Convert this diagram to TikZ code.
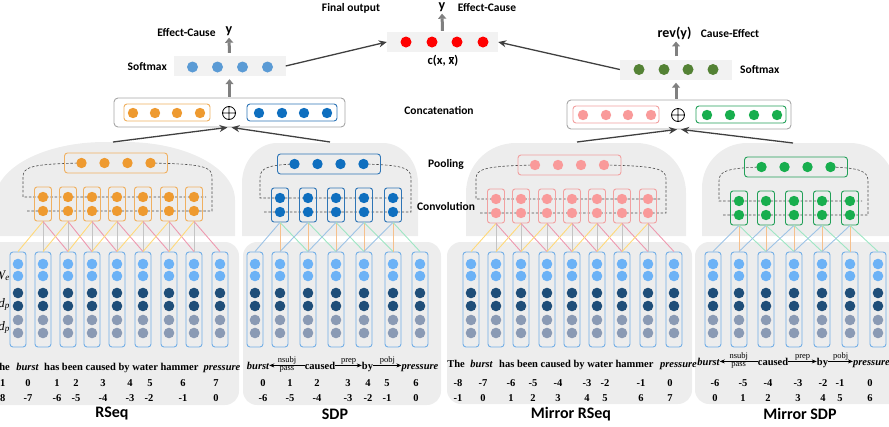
\documentclass[tikz,border=0pt]{standalone}
\usepackage{fontspec}
\setmainfont{Liberation Serif}
\newfontfamily\labf{Carlito}
\usetikzlibrary{arrows.meta}
\definecolor{bgg}{HTML}{EDEDED}
\definecolor{smg}{HTML}{F2F2F2}
\definecolor{orangedot}{HTML}{EE9A30}
\definecolor{orangeline}{HTML}{F0B060}
\definecolor{bluedot}{HTML}{0F6FBF}
\definecolor{blueline}{HTML}{2E75B6}
\definecolor{pinkdot}{HTML}{F99A9A}
\definecolor{pinkline}{HTML}{F2A0A0}
\definecolor{greendot}{HTML}{18AE4E}
\definecolor{greenline}{HTML}{22A058}
\definecolor{embline}{HTML}{72AEE6}
\definecolor{eA}{HTML}{6CB2F6}
\definecolor{eB}{HTML}{1F4E79}
\definecolor{eC}{HTML}{8A9AB4}
\definecolor{lkY}{HTML}{FFD97A}
\definecolor{lkG}{HTML}{C4C4C4}
\definecolor{lkP}{HTML}{EE9AB0}
\definecolor{lkB}{HTML}{9DC3E6}
\definecolor{lkO}{HTML}{F6C08C}
\definecolor{lkM}{HTML}{9EE6C4}
\definecolor{smblue}{HTML}{5B9BD5}
\definecolor{smgreen}{HTML}{548235}
\definecolor{arrg}{HTML}{808080}
\definecolor{darr}{HTML}{404040}
\tikzset{
 embbox/.style={draw=embline, line width=0.9pt, rounded corners=3pt, minimum width=16pt, minimum height=95pt, inner sep=0pt},
 convbox/.style={draw=#1, line width=0.9pt, rounded corners=2.5pt, minimum width=17pt, minimum height=34pt, inner sep=0pt},
 poolbox/.style={draw=#1, line width=0.9pt, rounded corners=3pt, minimum width=103pt, minimum height=20pt, inner sep=0pt},
 inbox/.style={draw=#1, line width=0.9pt, rounded corners=3pt, minimum height=17pt, inner sep=0pt},
 outbox/.style={draw=gray!70, fill=white, line width=0.9pt, rounded corners=4pt, minimum height=29pt, inner sep=0pt},
 smbox/.style={fill=smg, minimum height=20pt, inner sep=0pt},
 dashln/.style={dash pattern=on 2.5pt off 1.8pt, line width=0.6pt, black!70},
 garrow/.style={draw=arrg, line width=3pt, -{Triangle[width=8pt,length=5pt]}},
 darrow/.style={draw=darr, line width=1.3pt, -{Stealth[width=7pt,length=8pt]}},
 lab/.style={font=\labf\bfseries\fontsize{11.5}{13}\selectfont, inner sep=0pt},
 ylab/.style={font=\labf\bfseries\fontsize{14}{16}\selectfont, inner sep=0pt},
 big/.style={font=\labf\bfseries\fontsize{16}{18}\selectfont, inner sep=0pt},
 wd/.style={font=\bfseries\fontsize{10.5}{12}\selectfont, inner sep=0pt, anchor=base},
 wi/.style={font=\bfseries\itshape\fontsize{10.5}{12}\selectfont, inner sep=0pt, anchor=base},
 num/.style={font=\bfseries\fontsize{10.5}{12}\selectfont, inner sep=0pt, anchor=base},
 dep/.style={font=\fontsize{8.5}{9}\selectfont, inner sep=0pt},
 deparr/.style={line width=0.6pt, -{Stealth[width=4pt,length=5pt]}},
 side/.style={font=\itshape\fontsize{13}{14}\selectfont, inner sep=0pt, anchor=base east},
}
% embedding columns: #1 prefix, #2 x list
\newcommand\embrow[2]{%
  \foreach \x [count=\i] in {#2} {
    \node[embbox] (#1e\i) at (\x,299.5) {};
    \foreach \yy/\cc in {264/eA,276/eA,293/eB,306/eB,320/eC,333/eC}
      \fill[\cc] (\x,\yy) circle (5.3);
  }}
% conv + pool: #1 prefix #2 conv xs #3 row1 y #4 pool cx #5 colour #6 first x #7 last x
\newcommand\convpool[7]{%
  \pgfmathsetmacro\pyy{#3-34}
  \pgfmathsetmacro\rbb{#3+14}
  \draw[dashln] (#4-34.5,\pyy) .. controls (#6-12,\pyy+1) and (#6-20,\pyy+4) .. (#6-20,\pyy+14) -- (#6-20,#3) -- (#7+12,#3);
  \draw[dashln] (#6-16,\rbb) -- (#7+18,\rbb) -- (#7+18,\pyy+14) .. controls (#7+18,\pyy+4) and (#7+10,\pyy+1) .. (#4+34.5,\pyy);
  \node[poolbox=#5line] (#1pool) at (#4,\pyy) {};
  \foreach \k in {0,23,46,69} \fill[#5dot] (#4-34.5+\k,\pyy) circle (5.2);
  \foreach \x [count=\i] in {#2} {
    \node[convbox=#5line] (#1c\i) at (\x,#3+7) {};
    \fill[#5dot] (\x,#3) circle (5.2) (\x,\rbb) circle (5.2);
  }}
% links: #1 prefix #2 number of convs #3 #4 #5 colours
\newcommand\links[5]{%
  \foreach \i in {1,...,#2} {
    \pgfmathtruncatemacro\jj{\i+1}
    \pgfmathtruncatemacro\kk{\i+2}
    \draw[#3, line width=0.9pt] (#1c\i.south) -- (#1e\i.north);
    \draw[#4, line width=0.9pt] (#1c\i.south) -- (#1e\jj.north);
    \draw[#5, line width=0.9pt] (#1c\i.south) -- (#1e\kk.north);
  }}
\begin{document}
\begin{tikzpicture}[x=1pt,y=-1pt]
\useasboundingbox (0,0) rectangle (889,426);
% ---------- backgrounds
\fill[bgg] (-5,236) -- (-5,200) .. controls (-5,168) and (44,142) .. (105,142) -- (125,142) .. controls (186,142) and (235,168) .. (235,200) -- (235,236) -- cycle;
\fill[bgg] (242,236) -- (242,183) .. controls (242,161) and (258,143) .. (277,143) -- (383,143) .. controls (402,143) and (418,161) .. (418,183) -- (418,236) -- cycle;
\fill[bgg] (466,236) -- (466,193) .. controls (466,165) and (488,143) .. (516,143) -- (636,143) .. controls (664,143) and (686,165) .. (686,193) -- (686,236) -- cycle;
\fill[bgg] (702,236) -- (702,188) .. controls (702,163) and (722,143) .. (747,143) -- (850,143) .. controls (875,143) and (895,163) .. (895,188) -- (895,236) -- cycle;
\fill[bgg, rounded corners=14pt] (-20,242) rectangle (239,405);
\fill[bgg, rounded corners=14pt] (243,242) rectangle (441,405);
\fill[bgg, rounded corners=14pt] (447,242) rectangle (692,404);
\fill[bgg, rounded corners=14pt] (695,242) rectangle (905,404);
% ---------- embeddings
\embrow{rs}{18,43,68,92,117,143,169,194,220}
\embrow{sd}{255,280,308,336,364,393,420}
\embrow{mr}{471,496,521,547,572,597,622,648,674}
\embrow{ms}{713,739,766,794,822,850,878}
% ---------- convolution and pooling
\convpool{rs}{43,68,92,117,143,169,194}{197}{116}{orange}{43}{194}
\convpool{sd}{280,308,336,364,393}{198}{329}{blue}{280}{393}
\convpool{mr}{496,521,547,572,597,622,648}{199}{569.5}{pink}{496}{648}
\convpool{ms}{739,766,794,822,850}{201}{796}{green}{739}{850}
\links{rs}{7}{lkY}{lkG}{lkP}
\links{sd}{5}{lkB}{lkO}{lkM}
\links{mr}{7}{lkY}{lkG}{lkP}
\links{ms}{5}{lkB}{lkO}{lkM}
% ---------- side labels (cut by the page edge)
\node[side] (sl1) at (10,279) {W\textsubscript{e}};
\node[side] (sl2) at (10,307) {d\textsubscript{p}};
\node[side] (sl3) at (10,330) {d\textsubscript{p}};
% ---------- RSeq words and numbers
\node[wd, anchor=base east] (rsw1) at (10,370) {The};
\node[wi] (rsw2) at (27.5,370) {burst};
\node[wd, anchor=base west] (rsw3) at (44,370) {has been caused by water hammer};
\node[wi] (rsw4) at (222,370) {pressure};
\node[num, anchor=base east] (rsa0) at (5.5,386) {-1};
\node[num, anchor=base east] (rsb0) at (5.5,401) {-8};
\foreach \x/\t [count=\i] in {28/0,57/1,76/2,103/3,130/4,150/5,183/6,216/7}
  \node[num] (rsa\i) at (\x,386) {\t};
\foreach \x/\t [count=\i] in {28/-7,57/-6,76/-5,103/-4,130/-3,149/-2,183/-1,216/0}
  \node[num] (rsb\i) at (\x,401) {\t};
\node[big] (tRS) at (112,414) {RSeq};
% ---------- SDP words
\node[wi] (sdw1) at (258,369) {burst};
\node[wd] (sdw2) at (320,369) {caused};
\node[wd] (sdw3) at (367.5,369) {by};
\node[wi] (sdw4) at (420,369) {pressure};
\draw[deparr] (sdw2.west) -- (sdw2.west -| sdw1.east) node[pos=0.5, above=0.8pt, dep] (sdl1) {nsubj} node[pos=0.5, below=1.2pt, dep] (sdl2) {pass};
\draw[deparr] (sdw2.east) -- (sdw2.east -| sdw3.west) node[pos=0.5, above=0.8pt, dep] (sdl3) {prep};
\draw[deparr] (sdw3.east |- sdw2.east) -- (sdw2.east -| sdw4.west) node[pos=0.5, above=0.8pt, dep] (sdl4) {pobj};
\foreach \x/\t [count=\i] in {263/0,290/1,317/2,348/3,368/4,387/5,416/6}
  \node[num] (sda\i) at (\x,386) {\t};
\foreach \x/\t [count=\i] in {263/-6,290/-5,317/-4,348/-3,368/-2,387/-1,416/0}
  \node[num] (sdb\i) at (\x,401) {\t};
\node[big] (tSD) at (335,414) {SDP};
% ---------- Mirror RSeq words
\node[wd] (mrw1) at (456,367) {The};
\node[wi] (mrw2) at (481.5,367) {burst};
\node[wd, anchor=base west] (mrw3) at (499,367) {has been caused by water hammer};
\node[wi] (mrw4) at (678.5,367) {pressure};
\foreach \x/\t [count=\i] in {458/-8,483/-7,511/-6,533/-5,558/-4,587/-3,605/-2,641/-1,670/0}
  \node[num] (mra\i) at (\x,386) {\t};
\foreach \x/\t [count=\i] in {458/-1,483/0,511/1,533/2,558/3,587/4,605/5,641/6,670/7}
  \node[num] (mrb\i) at (\x,401) {\t};
\node[big] (tMR) at (571,414) {Mirror RSeq};
% ---------- Mirror SDP words
\node[wi] (msw1) at (708.5,365) {burst};
\node[wd] (msw2) at (773,365) {caused};
\node[wd] (msw3) at (822.5,365) {by};
\node[wi] (msw4) at (871.5,365) {pressure};
\draw[deparr] (msw2.west) -- (msw2.west -| msw1.east) node[pos=0.5, above=0.8pt, dep] (msl1) {nsubj} node[pos=0.5, below=1.2pt, dep] (msl2) {pass};
\draw[deparr] (msw2.east) -- (msw2.east -| msw3.west) node[pos=0.5, above=0.8pt, dep] (msl3) {prep};
\draw[deparr] (msw3.east |- msw2.east) -- (msw2.east -| msw4.west) node[pos=0.5, above=0.8pt, dep] (msl4) {pobj};
\foreach \x/\t [count=\i] in {715/-6,743/-5,768/-4,798/-3,823/-2,840/-1,870/0}
  \node[num] (msa\i) at (\x,386) {\t};
\foreach \x/\t [count=\i] in {715/0,743/1,768/2,798/3,823/4,840/5,870/6}
  \node[num] (msb\i) at (\x,401) {\t};
\node[big] (tMS) at (800,414) {Mirror SDP};
% ---------- middle labels
\node[lab] (lPool) at (446,164) {Pooling};
\node[lab] (lConv) at (446,206) {Convolution};
\node[lab] (lCat) at (439,110) {Concatenation};
% ---------- concatenation boxes
\node[outbox, minimum width=231pt] (concL) at (229.5,112.5) {};
\node[inbox=orangeline, minimum width=86pt] (catLa) at (167,112.5) {};
\node[inbox=blueline, minimum width=90pt] (catLb) at (292,112.5) {};
\foreach \x in {133,155,177,200} \fill[orangedot] (\x,113) circle (5.2);
\foreach \x in {259,282,304,327} \fill[bluedot] (\x,113) circle (5.2);
\draw[line width=0.8pt] (229,113) circle (6.5) (222.5,113) -- (235.5,113) (229,106.5) -- (229,119.5);
\node[outbox, minimum width=224pt] (concR) at (679,114.5) {};
\node[inbox=pinkline, minimum width=86pt] (catRa) at (616,114.5) {};
\node[inbox=greenline, minimum width=90pt] (catRb) at (741,114.5) {};
\foreach \x in {583,606,628,651} \fill[pinkdot] (\x,115) circle (5.2);
\foreach \x in {707,730,754,777} \fill[greendot] (\x,115) circle (5.2);
\draw[line width=0.8pt] (678,115) circle (6.5) (671.5,115) -- (684.5,115) (678,108.5) -- (678,121.5);
% ---------- softmax and output boxes
\node[smbox, minimum width=112pt] (smL) at (229.5,66) {};
\foreach \x in {192.5,217.5,242.5,267.5} \fill[smblue] (\x,67) circle (5.5);
\node[smbox, minimum width=112pt] (smR) at (676,69.5) {};
\foreach \x in {639,664,688,713} \fill[smgreen] (\x,69.5) circle (5.5);
\node[smbox, minimum width=111pt] (red) at (442.5,42) {};
\foreach \x in {406,432,457,483} \fill[red] (\x,42) circle (5.5);
% ---------- top labels
\node[lab] (lFinal) at (351,8) {Final output};
\node[ylab] (yT) at (442,7) {y};
\node[lab] (lEC) at (487,7) {Effect-Cause};
\node[lab] (lEC2) at (186.5,32) {Effect-Cause};
\node[ylab] (yL) at (229,31) {y};
\node[lab, anchor=east] (lSmL) at (167,67) {Softmax};
\node[lab, anchor=west] (lSmR) at (740,70) {Softmax};
\node[ylab] (yR) at (674.5,33) {rev(y)};
\node[lab] (lCE) at (730,33) {Cause-Effect};
\node[font=\labf\bfseries\fontsize{12.5}{14}\selectfont, inner sep=0pt] (cxx) at (443,61) {c(x, $\overline{\hbox{x}}$)};
% ---------- gray arrows
\draw[garrow, shorten <=1pt, shorten >=3pt] (concL.north) -- (smL.south);
\draw[garrow, shorten <=3pt, shorten >=2pt] (smL.north) -- (yL.south);
\draw[garrow, shorten <=1pt, shorten >=2pt] (red.north) -- (yT.south);
\draw[garrow, shorten <=1pt, shorten >=3pt] (concR.north -| smR.south) -- (smR.south);
\draw[garrow, shorten <=3pt, shorten >=2pt] (smR.north) -- (smR.north |- yR.south);
% ---------- dark arrows
\coordinate (dRS) at (113,142);
\coordinate (dSD) at (330,142);
\coordinate (dMR) at (577,142);
\coordinate (dMS) at (793,143);
\draw[darrow] (dRS) -- ([xshift=-2pt]concL.south);
\draw[darrow] (dSD) -- ([xshift=2pt]concL.south);
\draw[darrow] (dMR) -- ([xshift=-2pt]concR.south);
\draw[darrow] (dMS) -- ([xshift=2pt]concR.south);
\draw[darrow] (smL.east) -- (red.west);
\draw[darrow] (smR.west) -- (red.east);
\end{tikzpicture}
\end{document}
